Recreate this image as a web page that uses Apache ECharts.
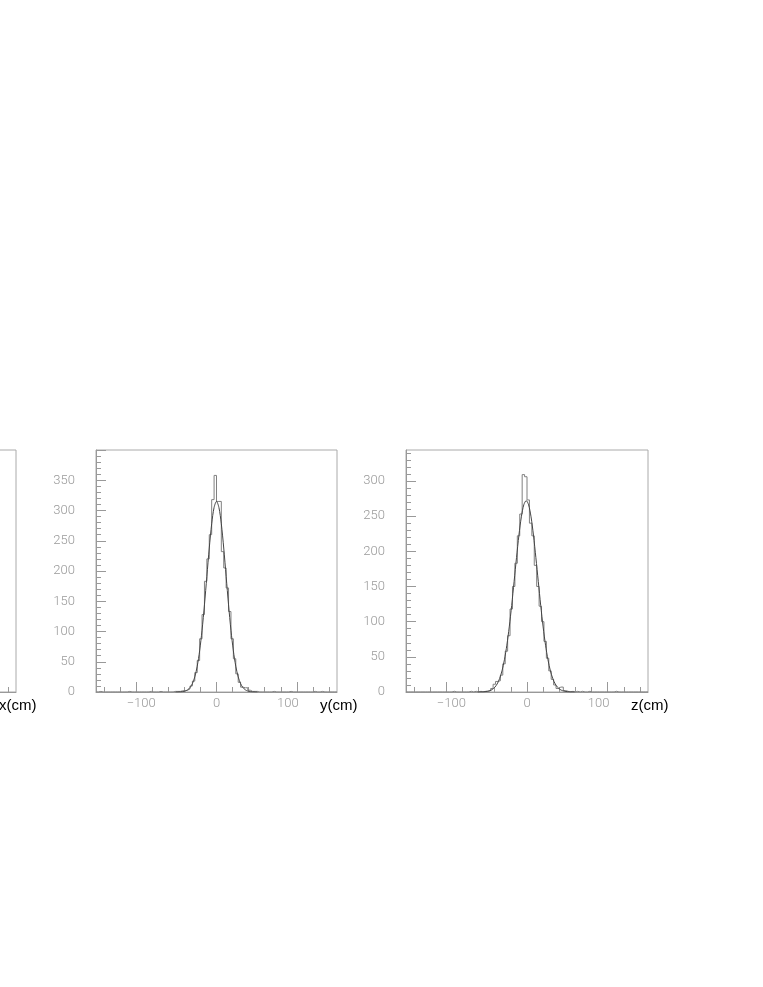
<!DOCTYPE html>
<html>
<head>
    <meta charset="UTF-8"/>
    <script src="https://cdn.jsdelivr.net/npm/echarts@6/dist/echarts.min.js"></script>
    <title>vertex x y z</title>
    <style>
        html, body {margin: 0; padding: 0; background: #fff;}
        #main {width: 763px; height: 987px;}
    </style>
</head>
<body>
<div id="main"></div>
<script type="text/javascript">
    // 100 bins of 3 cm, from -150 to 150
    var binMin = -150;
    var binWidth = 3;

    var yCounts = [
        0, 1, 0, 0, 0, 0, 0, 0, 0, 0,
        0, 0, 0, 1, 0, 0, 0, 0, 0, 0,
        0, 0, 1, 0, 0, 0, 1, 0, 0, 0,
        0, 0, 1, 1, 1, 2, 2, 3, 5, 10,
        18, 32, 52, 88, 128, 183, 220, 260, 318, 358,
        315, 315, 232, 205, 172, 133, 88, 55, 30, 16,
        8, 7, 7, 3, 1, 1, 1, 0, 0, 0,
        0, 0, 0, 1, 0, 0, 0, 0, 0, 0,
        1, 0, 0, 0, 0, 0, 0, 0, 0, 0,
        1, 0, 0, 1, 0, 0, 0, 0, 0, 0
    ];
    var zCounts = [
        0, 0, 0, 0, 0, 0, 0, 0, 0, 0,
        0, 0, 0, 0, 0, 0, 0, 0, 0, 1,
        0, 0, 0, 0, 0, 0, 1, 0, 1, 0,
        1, 0, 1, 1, 2, 5, 11, 15, 16, 24,
        40, 58, 80, 118, 150, 183, 222, 253, 309, 306,
        273, 240, 222, 180, 150, 122, 100, 72, 48, 30,
        18, 10, 5, 7, 7, 2, 1, 0, 1, 0,
        1, 0, 1, 0, 0, 1, 0, 0, 0, 0,
        0, 0, 0, 0, 0, 0, 1, 0, 0, 0,
        0, 0, 0, 0, 0, 0, 0, 0, 0, 0
    ];

    // gaussian fit curves
    var yFitX = [-51, -48, -45, -42, -39, -36, -33, -30, -27, -24, -21, -18, -15, -12, -9, -6, -3, 0,
        3, 6, 9, 12, 15, 18, 21, 24, 27, 30, 33, 36, 39, 42, 45, 48, 51];
    var yFitV = [0, 0.1, 0.3, 0.7, 1.6, 3.5, 7.2, 13.8, 25, 42.6, 68, 102, 144, 191, 238, 278, 305, 315,
        305, 278, 238, 191, 144, 102, 68, 42.6, 25, 13.8, 7.2, 3.5, 1.6, 0.7, 0.3, 0.1, 0];
    var zFitX = [-61, -58, -55, -52, -49, -46, -43, -40, -37, -34, -31, -28, -25, -22, -19, -16, -13, -10, -7, -4, -1,
        2, 5, 8, 11, 14, 17, 20, 23, 26, 29, 32, 35, 38, 41, 44, 47, 50, 53, 56, 59];
    var zFitV = [0, 0.1, 0.2, 0.5, 1.0, 1.9, 3.6, 6.6, 11.4, 19, 30, 45.8, 66.5, 92.5, 123, 157, 191, 223, 249, 266, 272,
        266, 249, 223, 191, 157, 123, 92.5, 66.5, 45.8, 30, 19, 11.4, 6.6, 3.6, 1.9, 1.0, 0.5, 0.2, 0.1, 0];

    var xMajorTicks = [-100, 0, 100];
    var xMinorTicks = [-140, -120, -80, -60, -40, -20, 20, 40, 60, 80, 120, 140];
    var yLabelsY = [0, 50, 100, 150, 200, 250, 300, 350];
    var yLabelsZ = [0, 50, 100, 150, 200, 250, 300];
    var yMaxY = 400;
    var yMaxZ = 344;

    var grey = '#999';
    var labelFont = 'Roboto, "Liberation Sans", sans-serif';

    function histLine(counts) {
        var pts = [];
        for (var i = 0; i < counts.length; i++) {
            pts.push([binMin + i * binWidth, counts[i]]);
        }
        pts.push([binMin + counts.length * binWidth, counts[counts.length - 1]]);
        return pts;
    }

    function pairs(xs, vs) {
        var pts = [];
        for (var i = 0; i < xs.length; i++) pts.push([xs[i], vs[i]]);
        return pts;
    }

    function every(step, max) {
        var t = [];
        for (var v = 0; v <= max; v += step) t.push(v);
        return t;
    }

    var labelStyle = {color: grey, fontSize: 13, fontFamily: labelFont, fontWeight: 300};

    function xAxes(g, name) {
        return [{
            type: 'value', gridIndex: g, position: 'bottom', min: -150, max: 150,
            axisLine: {show: true, onZero: false, lineStyle: {color: grey, width: 1}},
            axisTick: {show: true, inside: true, length: 10, customValues: xMajorTicks, lineStyle: {color: grey}},
            axisLabel: {
                customValues: xMajorTicks, margin: 5,
                formatter: function (v) {
                    if (v < 0) return '{n|\u2212' + (-v) + '}';
                    if (v > 0) return '{p|' + v + '}';
                    return '{c|0}';
                },
                rich: {
                    n: Object.assign({padding: [0, 0, 0, 10]}, labelStyle),
                    p: Object.assign({padding: [0, 18, 0, 0]}, labelStyle),
                    c: labelStyle
                }
            },
            splitLine: {show: false},
            name: '{a|' + name + '}', nameLocation: 'end', nameGap: -17,
            nameTextStyle: {
                rich: {
                    a: {
                        color: '#000', fontSize: 15, fontFamily: '"Liberation Sans", Arial, sans-serif',
                        padding: [27, 0, 0, 0]
                    }
                }
            }
        }, {
            type: 'value', gridIndex: g, position: 'bottom', min: -150, max: 150,
            axisLine: {show: false, onZero: false},
            axisTick: {show: true, inside: true, length: 5, customValues: xMinorTicks, lineStyle: {color: grey}},
            axisLabel: {show: false},
            splitLine: {show: false}
        }];
    }

    function yAxes(g, max, labels) {
        return [{
            type: 'value', gridIndex: g, position: 'left', min: 0, max: max,
            axisLine: {show: true, onZero: false, lineStyle: {color: grey, width: 1}},
            axisTick: {show: true, inside: true, length: 10, customValues: every(50, max), lineStyle: {color: grey}},
            axisLabel: Object.assign({customValues: labels, margin: 21}, labelStyle),
            splitLine: {show: false}
        }, {
            type: 'value', gridIndex: g, position: 'left', min: 0, max: max,
            axisLine: {show: false, onZero: false},
            axisTick: {show: true, inside: true, length: 5, customValues: every(10, max), lineStyle: {color: grey}},
            axisLabel: {show: false},
            splitLine: {show: false}
        }];
    }

    var gridBox = {
        show: true, borderColor: '#aaa', borderWidth: 1, backgroundColor: 'transparent',
        containLabel: false, outerBoundsMode: 'none'
    };

    var option = {
        backgroundColor: '#fff',
        animation: false,
        grid: [
            Object.assign({left: -225, top: 450, width: 241, height: 242}, gridBox),
            Object.assign({left: 96, top: 450, width: 241, height: 242}, gridBox),
            Object.assign({left: 406, top: 450, width: 242, height: 242}, gridBox)
        ],
        xAxis: [].concat(xAxes(0, 'x(cm)'), xAxes(1, 'y(cm)'), xAxes(2, 'z(cm)')),
        yAxis: [].concat(yAxes(0, 400, yLabelsY), yAxes(1, yMaxY, yLabelsY), yAxes(2, yMaxZ, yLabelsZ)),
        series: [
            {
                name: 'y', type: 'line', step: 'end', xAxisIndex: 2, yAxisIndex: 2,
                data: histLine(yCounts), showSymbol: false, silent: true,
                lineStyle: {color: '#808080', width: 1}
            },
            {
                name: 'y fit', type: 'line', smooth: 0.3, xAxisIndex: 2, yAxisIndex: 2,
                data: pairs(yFitX, yFitV), showSymbol: false, silent: true,
                lineStyle: {color: '#444', width: 1}
            },
            {
                name: 'z', type: 'line', step: 'end', xAxisIndex: 4, yAxisIndex: 4,
                data: histLine(zCounts), showSymbol: false, silent: true,
                lineStyle: {color: '#808080', width: 1}
            },
            {
                name: 'z fit', type: 'line', smooth: 0.3, xAxisIndex: 4, yAxisIndex: 4,
                data: pairs(zFitX, zFitV), showSymbol: false, silent: true,
                lineStyle: {color: '#444', width: 1}
            }
        ]
    };

    var myChart = echarts.init(document.getElementById('main'));
    myChart.setOption(option);
</script>
</body>
</html>
